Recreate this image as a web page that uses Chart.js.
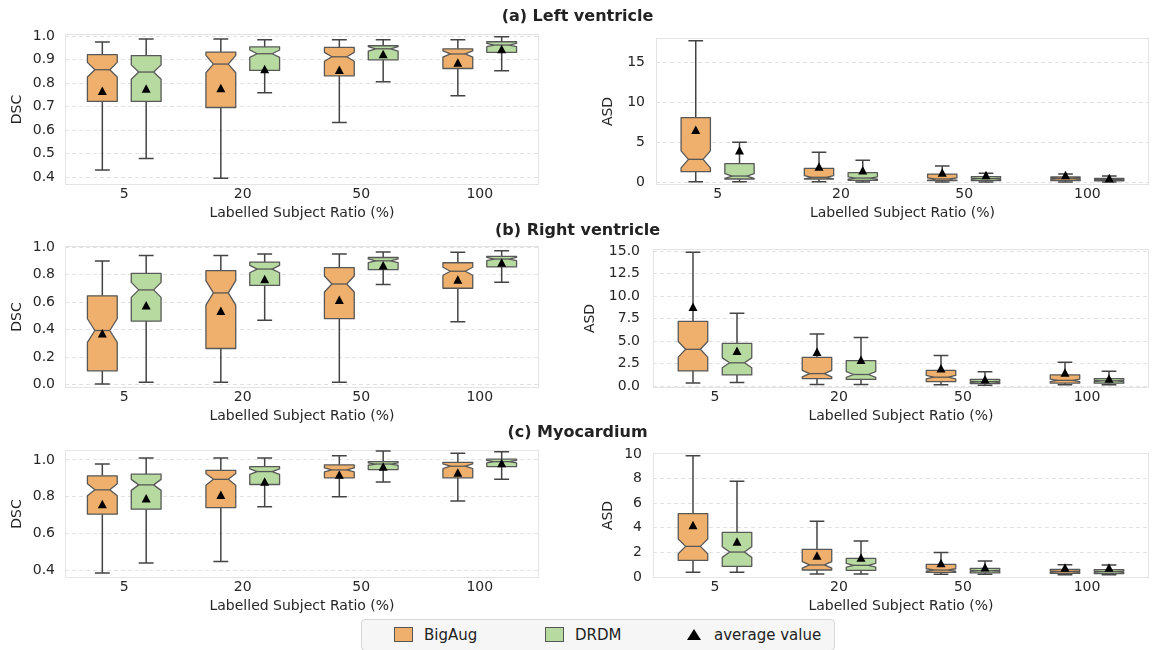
<!DOCTYPE html>
<html>
<head>
<meta charset="utf-8">
<script src="https://cdn.jsdelivr.net/npm/chart.js@4.4.1/dist/chart.umd.min.js"></script>
<style>
  body { margin: 0; background: #fff; }
  #fig { position: relative; width: 1155px; height: 650px; overflow: hidden; font-family: 'DejaVu Sans', sans-serif; color: #222; }
  #fig canvas { position: absolute; }
  .title { position: absolute; left: 0; width: 1155px; text-align: center; font-weight: bold; font-size: 16px; line-height: 20px; z-index: 2; }
  #legend { position: absolute; left: 361px; top: 619px; width: 472px; height: 30px; background: #f6f6f6; border: 1px solid #d8d8d8; border-radius: 4px; z-index: 2; }
  #legend .sw { position: absolute; top: 7px; width: 19px; height: 15px; border: 1px solid #555; box-sizing: border-box; }
  #legend .tx { position: absolute; top: 6px; font-size: 15px; line-height: 18px; color: #222; }
  #legend .tri { position: absolute; top: 9px; width: 0; height: 0; border-left: 7px solid transparent; border-right: 7px solid transparent; border-bottom: 11px solid #000; }
</style>
</head>
<body>
<div id="fig">
  <div class="title" style="top:6px">(a) Left ventricle</div>
  <div class="title" style="top:220px">(b) Right ventricle</div>
  <div class="title" style="top:422px">(c) Myocardium</div>
  <div id="legend">
    <div class="sw" style="left:32px; background:#EEB06C"></div>
    <div class="tx" style="left:62px">BigAug</div>
    <div class="sw" style="left:183px; background:#B7DAA0"></div>
    <div class="tx" style="left:213px">DRDM</div>
    <div class="tri" style="left:325px"></div>
    <div class="tx" style="left:352px">average value</div>
  </div>
</div>
<script>
// categories
const ratioLabels = ['5', '20', '50', '100'];

// each row: [low whisker, Q1, median, Q3, high whisker, mean]
const lvDscBigAug = [[0.431, 0.723, 0.858, 0.922, 0.976, 0.765], [0.396, 0.697, 0.882, 0.933, 0.989, 0.777], [0.633, 0.832, 0.913, 0.953, 0.986, 0.855], [0.747, 0.863, 0.925, 0.947, 0.986, 0.885]];
const lvDscDrdm   = [[0.480, 0.723, 0.848, 0.918, 0.989, 0.775], [0.760, 0.855, 0.926, 0.955, 0.986, 0.858], [0.807, 0.900, 0.947, 0.960, 0.986, 0.922], [0.853, 0.932, 0.963, 0.977, 0.998, 0.943]];
const lvAsdBigAug = [[0.08, 1.34, 2.88, 8.10, 17.72, 6.48], [0.08, 0.42, 0.63, 1.76, 3.76, 1.88], [0.04, 0.21, 0.42, 1.04, 2.05, 1.13], [0.04, 0.21, 0.46, 0.67, 1.04, 0.84]];
const lvAsdDrdm   = [[0.08, 0.42, 0.79, 2.34, 5.01, 3.93], [0.04, 0.25, 0.54, 1.21, 2.76, 1.42], [0.04, 0.21, 0.46, 0.71, 1.13, 0.84], [0.05, 0.20, 0.35, 0.48, 0.80, 0.45]];
const rvDscBigAug = [[0.005, 0.100, 0.394, 0.647, 0.900, 0.368], [0.017, 0.263, 0.668, 0.830, 0.940, 0.532], [0.017, 0.480, 0.733, 0.852, 0.952, 0.613], [0.458, 0.702, 0.826, 0.888, 0.964, 0.761]];
const rvDscDrdm   = [[0.017, 0.463, 0.690, 0.811, 0.940, 0.573], [0.468, 0.723, 0.842, 0.893, 0.952, 0.764], [0.730, 0.838, 0.902, 0.926, 0.967, 0.864], [0.745, 0.858, 0.915, 0.935, 0.975, 0.885]];
const rvAsdBigAug = [[0.35, 1.70, 4.10, 7.20, 14.90, 8.75], [0.20, 0.85, 1.40, 3.20, 5.80, 3.75], [0.15, 0.50, 1.00, 1.75, 3.40, 1.90], [0.15, 0.35, 0.65, 1.25, 2.65, 1.45]];
const rvAsdDrdm   = [[0.40, 1.25, 2.60, 4.75, 8.10, 3.85], [0.20, 0.75, 1.30, 2.85, 5.40, 2.85], [0.10, 0.30, 0.50, 0.75, 1.60, 0.70], [0.17, 0.34, 0.60, 0.84, 1.66, 0.78]];
const myoDscBigAug = [[0.387, 0.706, 0.838, 0.914, 0.978, 0.757], [0.450, 0.742, 0.895, 0.944, 1.011, 0.807], [0.800, 0.903, 0.946, 0.973, 1.023, 0.917], [0.778, 0.903, 0.966, 0.987, 1.036, 0.928]];
const myoDscDrdm   = [[0.441, 0.733, 0.865, 0.923, 1.011, 0.789], [0.746, 0.867, 0.937, 0.964, 1.011, 0.879], [0.881, 0.948, 0.978, 0.991, 1.049, 0.960], [0.896, 0.964, 0.991, 1.004, 1.045, 0.979]];
const myoAsdBigAug = [[0.38, 1.36, 2.49, 5.15, 9.86, 4.17], [0.24, 0.57, 0.98, 2.25, 4.53, 1.68], [0.22, 0.38, 0.57, 1.03, 2.00, 1.08], [0.18, 0.30, 0.45, 0.62, 1.00, 0.72]];
const myoAsdDrdm   = [[0.38, 0.87, 2.03, 3.63, 7.78, 2.82], [0.24, 0.54, 0.95, 1.52, 2.93, 1.52], [0.22, 0.33, 0.51, 0.70, 1.30, 0.73], [0.18, 0.28, 0.43, 0.60, 0.97, 0.72]];

// tick labels
const lvDscTicks  = ['0.4', '0.5', '0.6', '0.7', '0.8', '0.9', '1.0'];
const lvAsdTicks  = ['0', '5', '10', '15'];
const rvDscTicks  = ['0.0', '0.2', '0.4', '0.6', '0.8', '1.0'];
const rvAsdTicks  = ['0.0', '2.5', '5.0', '7.5', '10.0', '12.5', '15.0'];
const myoDscTicks = ['0.4', '0.6', '0.8', '1.0'];
const myoAsdTicks = ['0', '2', '4', '6', '8', '10'];

const N_CASES = 100; // notch size follows matplotlib: 1.57 * IQR / sqrt(n)
const FONT = 'DejaVu Sans';
const TEXT = '#262626';
const ORANGE = '#EEB06C';
const GREEN = '#B7DAA0';
const EDGE = '#585858';

// Draws the notched boxes, whiskers and means from the stats, on the chart's own scales
const boxPlugin = {
  id: 'notchedBoxes',
  beforeDatasetsDraw(chart) {
    const { ctx, chartArea: a } = chart;
    ctx.save();
    ctx.strokeStyle = '#e4e4e4';
    ctx.lineWidth = 1;
    ctx.strokeRect(a.left + 0.5, a.top + 0.5, a.width - 1, a.height - 1);
    ctx.restore();
  },
  afterDatasetsDraw(chart) {
    const ctx = chart.ctx;
    const yScale = chart.scales.y;
    const py = v => yScale.getPixelForValue(v);
    chart.data.datasets.forEach((ds, i) => {
      const meta = chart.getDatasetMeta(i);
      meta.data.forEach((bar, j) => {
        const [lo, q1, med, q3, hi, mean] = ds.stats[j];
        const cx = bar.x, hw = bar.width / 2, nw = hw / 2, cw = hw / 2;
        const notch = 1.57 * (q3 - q1) / Math.sqrt(N_CASES);
        ctx.save();
        // whiskers
        ctx.strokeStyle = '#444';
        ctx.lineWidth = 1.5;
        ctx.beginPath();
        ctx.moveTo(cx, py(q1)); ctx.lineTo(cx, py(lo));
        ctx.moveTo(cx - cw, py(lo)); ctx.lineTo(cx + cw, py(lo));
        ctx.moveTo(cx, py(q3)); ctx.lineTo(cx, py(hi));
        ctx.moveTo(cx - cw, py(hi)); ctx.lineTo(cx + cw, py(hi));
        ctx.stroke();
        // notched box
        const pts = [
          [cx - hw, q1], [cx + hw, q1], [cx + hw, med - notch], [cx + nw, med],
          [cx + hw, med + notch], [cx + hw, q3], [cx - hw, q3], [cx - hw, med + notch],
          [cx - nw, med], [cx - hw, med - notch]
        ];
        ctx.beginPath();
        pts.forEach(([x, v], k) => k ? ctx.lineTo(x, py(v)) : ctx.moveTo(x, py(v)));
        ctx.closePath();
        ctx.fillStyle = ds.boxColor;
        ctx.fill();
        ctx.strokeStyle = EDGE;
        ctx.lineWidth = 1.3;
        ctx.lineJoin = 'round';
        ctx.stroke();
        // median
        ctx.beginPath();
        ctx.moveTo(cx - nw, py(med)); ctx.lineTo(cx + nw, py(med));
        ctx.stroke();
        // mean marker
        const my = py(mean);
        ctx.fillStyle = '#000';
        ctx.beginPath();
        ctx.moveTo(cx, my - 5);
        ctx.lineTo(cx + 4.5, my + 3.5);
        ctx.lineTo(cx - 4.5, my + 3.5);
        ctx.closePath();
        ctx.fill();
        ctx.restore();
      });
    });
  }
};

function makePanel(p) {
  const canvas = document.createElement('canvas');
  const plotH = p.plotBottom - p.plotTop;
  const padTop = 24, xAxisH = 37;
  canvas.width = p.width;
  canvas.height = padTop + plotH + xAxisH;
  canvas.style.left = p.left + 'px';
  canvas.style.top = (p.plotTop - padTop) + 'px';
  document.getElementById('fig').appendChild(canvas);

  const tickVals = p.ticks.map(Number);
  const font = { family: FONT, size: 14 };

  return new Chart(canvas, {
    type: 'bar',
    data: {
      labels: ratioLabels,
      datasets: [
        { label: 'BigAug', data: p.bigAug.map(s => [s[1], s[3]]), stats: p.bigAug, boxColor: ORANGE,
          backgroundColor: 'rgba(0,0,0,0)', borderWidth: 0 },
        { label: 'DRDM', data: p.drdm.map(s => [s[1], s[3]]), stats: p.drdm, boxColor: GREEN,
          backgroundColor: 'rgba(0,0,0,0)', borderWidth: 0 }
      ]
    },
    options: {
      responsive: false,
      animation: false,
      events: [],
      categoryPercentage: p.catPct,
      barPercentage: p.barPct,
      layout: { padding: { top: padTop, right: p.width - (p.plotRight - p.left), left: 0, bottom: 0 } },
      plugins: { legend: { display: false }, tooltip: { enabled: false } },
      scales: {
        x: {
          grid: { display: false, drawTicks: false },
          border: { display: false },
          ticks: { font, color: TEXT, padding: 1 },
          title: { display: true, text: 'Labelled Subject Ratio (%)', font, color: TEXT, padding: 0 },
          afterFit: s => { s.height = xAxisH; }
        },
        y: {
          min: p.min,
          max: p.max,
          grid: { color: '#e2e2e2', lineWidth: 1, drawTicks: false },
          border: { display: false, dash: [4, 3] },
          afterBuildTicks: s => { s.ticks = tickVals.map(v => ({ value: v })); },
          ticks: {
            font, color: TEXT, padding: p.tickPad,
            callback: (v, idx) => p.ticks[idx]
          },
          title: { display: true, text: p.yTitle, font, color: TEXT, padding: { top: p.titlePad, bottom: 0 } },
          afterFit: s => { s.width = p.plotLeft - p.left; }
        }
      }
    },
    plugins: [boxPlugin]
  });
}

const leftCol = { left: 0, width: 545, plotLeft: 65, plotRight: 539, catPct: 0.74, barPct: 0.68, tickPad: 10, titlePad: 9, yTitle: 'DSC' };
const rightCol = { left: 580, width: 575, plotRight: 1149, catPct: 0.71, barPct: 0.67, yTitle: 'ASD' };

makePanel({ ...leftCol, plotTop: 34, plotBottom: 185, min: 0.367, max: 1.01, ticks: lvDscTicks, bigAug: lvDscBigAug, drdm: lvDscDrdm });
makePanel({ ...rightCol, plotLeft: 656, plotTop: 38, plotBottom: 185, min: -0.33, max: 18.05, ticks: lvAsdTicks, tickPad: 11, titlePad: 19.5, bigAug: lvAsdBigAug, drdm: lvAsdDrdm });
makePanel({ ...leftCol, plotTop: 246, plotBottom: 388, min: -0.025, max: 1.01, ticks: rvDscTicks, bigAug: rvDscBigAug, drdm: rvDscDrdm });
makePanel({ ...rightCol, plotLeft: 653, plotTop: 249, plotBottom: 388, min: -0.2, max: 15.25, ticks: rvAsdTicks, tickPad: 13, titlePad: 1.5, bigAug: rvAsdBigAug, drdm: rvAsdDrdm });
makePanel({ ...leftCol, plotTop: 450, plotBottom: 578, min: 0.36, max: 1.054, ticks: myoDscTicks, bigAug: myoDscBigAug, drdm: myoDscDrdm });
makePanel({ ...rightCol, plotLeft: 653, plotTop: 453, plotBottom: 578, min: -0.08, max: 10.08, ticks: myoAsdTicks, tickPad: 11, titlePad: 19.5, bigAug: myoAsdBigAug, drdm: myoAsdDrdm });
</script>
</body>
</html>
